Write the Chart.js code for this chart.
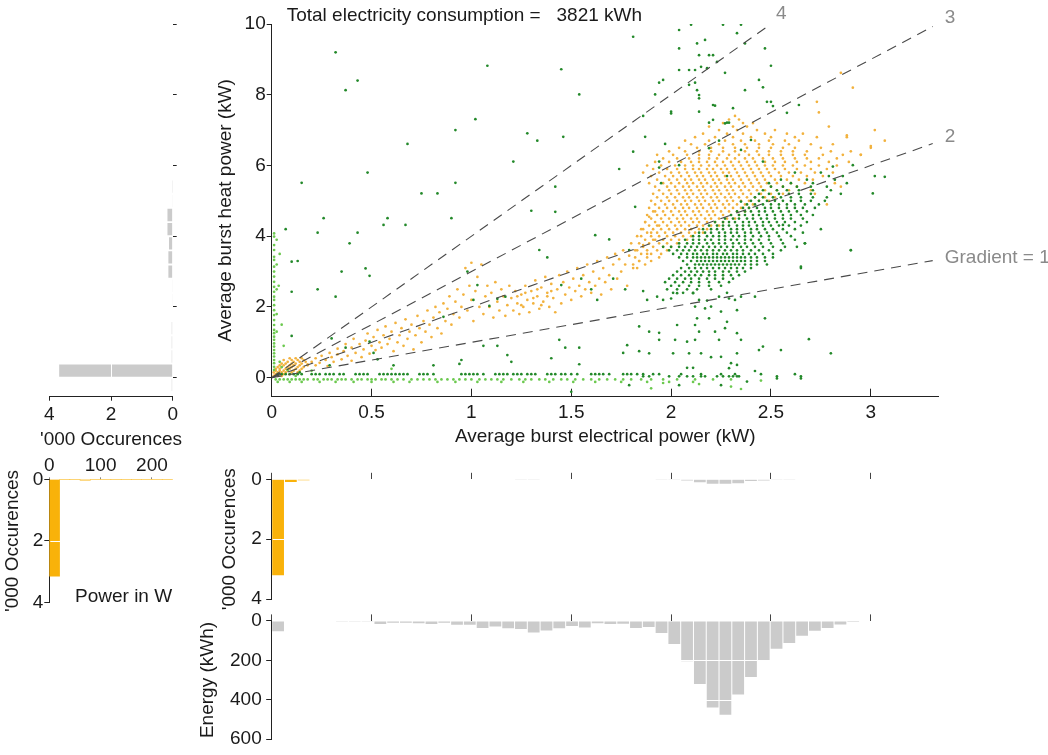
<!DOCTYPE html>
<html><head><meta charset="utf-8">
<script src="https://cdn.jsdelivr.net/npm/chart.js@4.4.1/dist/chart.umd.min.js"></script>
<style>
html,body{margin:0;padding:0;background:#fff;width:1048px;height:755px;overflow:hidden;}
canvas{position:absolute;}
</style></head><body>
<canvas id="cHeat" width="200" height="460" style="left:0;top:0"></canvas>
<canvas id="cMain" width="868" height="460" style="left:180px;top:0"></canvas>
<canvas id="cLow" width="200" height="160" style="left:0;top:455px"></canvas>
<canvas id="cOcc" width="868" height="160" style="left:180px;top:455px"></canvas>
<canvas id="cEnergy" width="868" height="150" style="left:180px;top:605px"></canvas>
<script>
// ---------------- DATA ----------------
const totalConsumption = 3821; // kWh
const elecTicks = [0, 0.5, 1, 1.5, 2, 2.5, 3];
const heatTicks = [0, 2, 4, 6, 8, 10];
const occTicks = [0, 2, 4];
const energyTicks = [0, 200, 400, 600];
const heatOccTicks = [0, 2, 4];
const lowTicks = [0, 100, 200];

// gradient reference lines (heat = g * electrical)
const gradients = [1, 2, 3, 4];
const gradientEndX = [3.31, 3.31, 3.31, 2.5];
const gradientLabels = ['Gradient = 1', '2', '3', '4'];

// histogram of bursts by electrical power ('000 occurences) and energy (kWh), bins of 0.064 kW
const elecBinWidth = 0.064;
const occurrences = [3.2,0.09,0.03,0,0,0,0,0,0.015,0, 0,0,0,0,0,0,0,0,0,0.01,
  0.01,0,0,0,0,0,0,0,0,0, 0.005,0.02,0.04,0.10,0.15,0.15,0.13,0.06,0.04,0.02,
  0.02,0,0,0,0,0,0,0,0,0, 0,0];
const energy = [52,3,0,0,0,2,2,2,16,10, 10,12,16,10,20,20,36,28,37,41,
  59,49,37,26,33,12,16,14,36,31, 62,117,205,320,439,476,374,285,203,141,
  112,76,50,36,18,5,0,0,0,0, 0,0];
const lowPowerLimit = 0.25; // kW: occurrence bins shown in orange (detailed in W panel)

// histogram of bursts by heat power ('000), bins of 0.4 kW from -0.4
const heatBinStart = -0.4, heatBinWidth = 0.4;
const heatOccurrences = [0.03,3.68,0.03,0.03,0.03,0,0.02,0.02,0.14,0.14,0.12,0.17,0.17,0.02,0.005];

// low power detail ('000 occurences), bins of 20 W
const lowBinWidth = 20;
const lowOccurrences = [3.14,0,0,0.03,0,0,0,0,0,0,0,0];

// scatter: rows of points [heat kW, electrical values in hundredths of kW]
const orangeClusterRows = [
 [7.4,'232'],[7.3,'229 234'],[7.2,'226 236 241'],[7.1,'219 231 238 279'],[7.0,'224 233 243 252 302'],
 [6.9,'216 228 236 247 258 266'],[6.8,'212 222 231 240 250 262 273 288'],[6.7,'207 219 227 235 242 249 257 264 307'],
 [6.6,'210 217 224 231 237 244 251 259 270 281'],[6.5,'204 213 220 226 232 238 244 250 256 262 275 300'],
 [6.4,'199 207 214 220 226 232 237 243 249 255 261 268 280 290'],
 [6.3,'193 201 208 214 219 224 229 234 239 244 249 255 261 267 276 286 295'],
 [6.2,'196 203 209 214 219 223 228 232 237 241 246 251 256 262 268 274 283'],
 [6.1,'192 199 205 210 214 218 222 226 230 234 238 242 247 252 257 263 270 279 289'],
 [6.0,'188 195 202 207 211 215 219 223 227 231 235 239 243 247 251 256 261 267 274 283'],
 [5.9,'191 198 203 207 211 214 218 221 225 228 232 236 240 244 248 252 257 263 270 278'],
 [5.8,'186 194 200 204 208 212 215 219 222 226 229 233 237 241 245 249 254 259 265 272 281'],
 [5.7,'190 197 201 205 209 213 216 220 223 227 230 234 238 242 246 250 255 261 268 276'],
 [5.6,'193 199 203 207 210 214 217 221 224 228 231 235 239 243 247 252 258 264 271'],
 [5.5,'189 196 200 204 208 211 215 218 222 225 229 232 236 240 244 248 253 260 267 282'],
 [5.4,'192 198 202 206 209 213 216 220 223 227 230 234 237 241 245 250 256 263'],
 [5.3,'194 199 203 207 210 214 217 221 224 228 231 235 239 243 247 253 259 270'],
 [5.2,'191 196 200 204 208 211 215 218 222 225 229 232 236 240 245 250 256'],
 [5.1,'193 198 202 206 209 213 216 220 223 227 230 234 238 242 247 252'],
 [5.0,'190 195 199 203 207 210 214 217 221 224 228 231 235 239 244 249'],
 [4.9,'192 197 201 205 208 212 215 219 222 226 229 233 237 241'],
 [4.8,'189 194 198 202 206 209 213 216 220 223 227 231 235 239'],
 [4.7,'191 196 200 204 207 211 214 218 221 225 229 233 237'],
 [4.6,'188 193 197 201 205 208 212 215 219 222 226 230 234'],
 [4.5,'190 195 199 203 206 210 213 217 220 224 228 232'],
 [4.4,'187 192 196 200 204 207 211 214 218 222 226'],
 [4.3,'189 194 198 202 205 209 213 216 220 224'],
 [4.2,'186 191 195 199 203 207 210 214 218'],
 [4.1,'188 193 197 201 205 209 212 216'],
 [4.0,'185 190 194 198 202 206 210'],
 [3.9,'187 192 196 200 204 208'],[3.8,'184 189 194 198 203'],[3.7,'186 191 196 200'],
 [3.6,'183 188 193 198'],[3.5,'185 190 195'],[3.4,'182 188 194'],[3.3,'184 190'],[3.2,'181 187'],[3.1,'183']
];
const orangeOriginRows = [
 [0.55,'9 12 15'],[0.50,'6 10 13 16'],[0.45,'8 11 14 17'],[0.40,'5 7 10 12 15'],
 [0.35,'4 6 9 11 14 18'],[0.30,'3 5 8 10 13 16'],[0.25,'2 4 7 9 12 15'],[0.20,'2 4 6 8 11 14'],
 [0.15,'1 3 5 7 10 13'],[0.10,'2 4 6 9'],[0.05,'1 3 5']
];
// scattered orange points [x kW, y kW, ...]
const orangeBand = [
 0.18,0.38, 0.20,0.45, 0.22,0.35, 0.22,0.55, 0.24,0.42, 0.25,0.62, 0.27,0.50, 0.28,0.33, 0.29,0.70, 0.30,0.58,
 0.31,0.45, 0.33,0.66, 0.33,0.82, 0.35,0.52, 0.36,0.75, 0.37,0.95, 0.38,0.62, 0.40,0.48, 0.40,0.85, 0.41,1.10,
 0.42,0.70, 0.44,0.95, 0.45,0.58, 0.46,0.80, 0.47,1.05, 0.48,1.25, 0.49,0.68, 0.50,0.90, 0.51,1.15, 0.52,0.78,
 0.53,1.35, 0.54,1.00, 0.55,0.85, 0.56,1.20, 0.57,1.45, 0.58,0.95, 0.59,1.10, 0.60,1.30, 0.61,0.75, 0.62,1.55,
 0.63,1.00, 0.64,1.20, 0.65,1.40, 0.66,0.90, 0.67,1.65, 0.68,1.10, 0.69,1.30, 0.70,1.50, 0.71,0.80, 0.72,1.20,
 0.73,1.75, 0.74,1.40, 0.75,1.00, 0.76,1.60, 0.77,1.30, 0.78,1.90, 0.79,1.50, 0.80,1.15, 0.81,1.70, 0.82,2.00,
 0.83,1.40, 0.84,1.85, 0.85,1.25, 0.86,2.10, 0.87,1.60, 0.88,1.95, 0.89,2.30, 0.90,1.50, 0.91,1.80, 0.92,2.15,
 0.93,2.50, 0.94,1.70, 0.95,2.00, 0.96,2.35, 0.97,3.10, 0.98,1.90, 0.99,2.60, 1.00,2.20, 1.00,3.25, 1.01,1.60,
 1.02,2.45, 1.03,2.85, 1.04,2.00, 1.05,3.20, 1.06,1.80, 1.07,2.30, 1.08,2.60, 1.09,2.00, 1.10,2.40, 1.11,1.70,
 1.12,2.70, 1.13,2.15, 1.14,1.90, 1.15,2.50, 1.16,2.30, 1.17,1.75, 1.18,2.05, 1.19,2.60, 1.20,2.25, 1.21,1.90,
 1.22,2.45, 1.23,2.10, 1.24,1.80, 1.25,2.35, 1.26,2.00, 1.27,2.60, 1.28,2.20, 1.29,1.85, 1.30,2.45, 1.31,2.10,
 1.32,2.75, 1.33,2.30, 1.34,1.95, 1.35,2.55, 1.36,2.15, 1.37,2.85, 1.38,2.40, 1.39,2.00, 1.40,2.65, 1.41,2.25,
 1.42,1.85, 1.43,2.50, 1.44,2.90, 1.45,2.10, 1.46,2.70, 1.47,2.35, 1.48,3.00, 1.49,2.55, 1.50,2.20, 1.51,2.80,
 1.52,2.45, 1.53,3.10, 1.54,2.60, 1.55,2.30, 1.56,2.90, 1.57,2.50, 1.58,3.20, 1.59,2.70, 1.60,2.40, 1.61,3.00,
 1.62,2.60, 1.63,3.30, 1.64,2.80, 1.65,2.35, 1.66,3.10, 1.67,2.70, 1.68,3.40, 1.69,2.90, 1.70,2.50, 1.71,3.20,
 1.72,3.50, 1.73,2.80, 1.74,3.35, 1.75,3.00, 1.76,3.60, 1.77,3.20, 1.78,2.60, 1.79,3.45, 1.80,3.80, 1.81,3.10,
 1.82,3.60, 1.83,4.00, 1.84,3.30, 1.85,4.20, 1.86,3.75, 1.87,4.40, 1.88,3.50, 1.89,4.55, 1.90,4.10, 1.91,3.90,
 1.92,4.70, 1.93,4.30, 1.25,2.05, 1.27,2.40, 1.31,2.25, 1.35,2.05, 1.38,2.30, 1.33,2.50, 1.23,2.30, 1.40,2.45,
 2.95,6.30, 3.00,6.55, 2.88,6.85, 2.85,8.62, 2.91,8.20, 2.73,7.80, 2.74,7.50, 2.72,5.20, 2.78,4.90, 2.85,5.40
];
const greenClusterRows = [
 [5.8,'262 275'],[5.7,'279 286'],[5.6,'255 268 282'],[5.5,'249 260 271 288'],[5.4,'250 256 263 270 278'],
 [5.3,'246 253 258 264 271 280'],[5.2,'244 249 254 259 264 270 285'],[5.1,'242 246 251 255 260 265 271 278'],
 [5.0,'240 244 248 252 256 260 265 270 277'],[4.9,'238 242 246 250 254 258 262 267 274'],
 [4.8,'236 239 243 247 250 254 258 262 266 272'],[4.7,'233 237 240 244 247 251 255 259 263 268'],
 [4.6,'230 234 237 241 244 248 252 256 260 265 271'],[4.5,'227 231 234 238 241 245 248 252 256 260 266'],
 [4.4,'222 226 229 232 236 239 242 246 249 253 257 262 268'],
 [4.3,'219 223 226 229 233 236 239 243 246 250 254 259 265'],
 [4.2,'216 220 223 226 230 233 236 240 243 247 251 256 262 275'],
 [4.1,'214 217 220 224 227 230 233 237 240 244 248 253 258 266'],
 [4.0,'211 214 218 221 224 227 231 234 237 241 245 249 254 260'],
 [3.9,'207 211 214 217 220 224 227 230 233 237 240 244 249 255 262'],
 [3.8,'204 208 211 214 218 221 224 227 231 234 237 241 245 250 256 267'],
 [3.7,'196 200 204 207 210 213 216 219 222 225 228 231 235 238 242 246 251 257 263'],
 [3.6,'199 203 206 209 212 215 218 221 224 227 230 233 236 240 244 249 255 290'],
 [3.5,'201 205 208 211 213 216 218 221 223 226 228 231 233 236 239 242 246 251'],
 [3.4,'204 208 211 213 215 217 219 221 223 225 227 229 231 233 235 237 240 243 247 251'],
 [3.3,'206 210 213 215 217 219 221 223 225 227 229 231 233 235 237 240 243 247'],
 [3.2,'208 212 214 216 218 220 222 224 226 228 230 232 234 237 240 243 248'],
 [3.1,'205 209 212 215 218 221 224 227 230 233 236 240 265'],
 [3.0,'203 207 210 213 216 219 222 226 229 233 237'],
 [2.9,'201 205 209 212 215 219 222 226 230 234'],
 [2.8,'199 203 207 210 214 218 222 226 231'],
 [2.7,'197 202 206 210 214 219 224 229'],
 [2.6,'200 204 209 214 219 225'],[2.5,'198 203 208 213 220'],[2.4,'201 206 211 228'],
 [0.10,'3 5 7 9 11 13 15 20 22 24 27 29 31 34 36 42 44 46 48 54 56 58 60 62 64 66 68 74 76 78 81 95 97 99 101 103 106 112 114 116 118 121 123 125 128 130 132 138 140 142 145 147 150 153 160 162 164 166 169 176 178 180 183 186 191 194 205 215 225 232 245 262'],
 [0.04,'186 189 199 204 208 211 215 217 223 226 229 231 233 234 253 265']
];
const greenSparse = [
 2.04,9.83, 2.10,9.98, 2.26,9.98, 2.35,9.98, 2.33,9.74, 2.17,9.55, 2.37,9.45, 2.47,9.31, 2.04,9.31, 2.13,9.45,
 2.14,9.12, 2.19,9.12, 2.21,9.12, 2.23,8.93, 2.04,8.70, 2.09,8.70, 2.12,8.70, 2.15,8.79, 2.18,8.75, 2.27,8.62,
 2.50,8.82, 2.44,8.42, 2.46,8.21, 2.37,8.13, 1.96,8.42, 1.94,8.34, 2.12,8.34, 2.09,8.28, 2.13,8.13, 2.14,7.99,
 2.14,7.90, 1.92,8.01, 2.00,7.52, 2.14,7.52, 2.22,7.69, 2.31,7.62, 2.48,7.80, 2.50,7.80, 2.51,7.68, 2.58,7.49,
 2.64,7.71, 2.19,7.21, 2.28,7.21, 2.29,7.21, 2.21,7.29, 1.87,6.81, 1.97,6.61, 1.81,6.39, 1.94,6.11, 1.95,5.50,
 2.04,6.01, 2.00,7.47, 2.21,7.71, 2.27,7.19, 2.19,6.49, 2.24,6.70, 2.40,6.72, 2.35,6.44, 2.46,6.11, 2.91,6.01,
 3.02,5.70, 3.01,5.21, 3.07,5.68, 2.81,5.97, 2.28,5.70, 2.35,4.98,
 1.81,9.64, 0.32,9.20, 0.37,8.13, 0.43,8.40, 1.45,8.72, 1.54,8.01, 1.08,8.82, 1.02,7.31, 0.92,7.00, 0.68,6.61,
 1.28,6.91, 1.33,6.70, 1.46,6.81, 1.21,6.11, 1.74,5.90, 1.86,7.40, 1.94,5.94, 0.15,5.51, 0.48,5.80, 0.92,5.51,
 0.75,5.21, 0.83,5.21, 1.42,5.40,
 0.07,4.20, 0.26,4.51, 0.23,4.10, 0.39,3.80, 0.43,4.10, 0.58,4.51, 0.67,4.32, 0.90,4.51, 0.56,4.32, 0.10,3.28,
 0.13,3.30, 0.10,2.43, 0.23,2.50, 0.35,3.00, 0.47,3.09, 0.49,2.88, 0.32,2.29, 0.10,1.18, 1.42,4.69, 1.30,4.72,
 1.82,4.83, 1.69,3.91, 1.62,4.03, 1.79,3.61, 0.98,3.00, 1.03,2.62, 1.01,2.20, 1.09,2.03, 0.86,1.72, 1.13,2.23,
 1.17,2.29, 1.34,3.61, 1.38,3.40, 1.45,2.62, 1.55,2.80, 1.60,2.50, 1.63,2.20, 1.71,2.80, 1.77,2.50, 1.86,2.45,
 1.89,1.30, 1.84,1.45, 1.78,0.92, 1.76,0.70, 1.84,0.75, 1.79,-0.21, 1.50,-0.40, 1.54,0.38, 1.44,1.07,
 1.47,0.85, 1.54,0.85, 1.40,0.55, 1.18,0.64, 1.20,0.45, 1.06,0.90, 1.13,0.90, 0.94,0.39, 0.95,0.50, 0.81,0.35,
 0.53,0.52, 0.61,0.35, 0.49,1.02, 0.51,0.70, 0.30,1.11, 0.37,0.85, 0.29,0.35, 0.14,0.15,
 1.88,2.20, 1.93,2.29, 1.96,2.20, 2.00,2.24, 2.03,2.39, 2.11,2.39, 2.14,2.20, 2.18,2.18, 2.24,2.29, 2.29,2.24,
 2.32,2.20, 2.35,2.29, 2.42,2.29, 2.12,2.01, 2.17,1.96, 2.20,2.01, 2.25,1.87, 2.33,1.91, 2.13,1.68, 2.19,1.68,
 2.28,1.58, 2.47,1.68, 1.94,1.27, 2.03,1.49, 2.12,1.49, 2.14,1.30, 2.22,1.30, 2.27,1.40, 2.33,1.26,
 1.94,1.07, 2.02,1.07, 2.08,1.02, 2.12,1.07, 2.24,1.07, 2.35,1.07, 2.69,1.09, 2.01,0.69, 2.09,0.69, 2.15,0.69,
 2.20,0.58, 2.25,0.59, 2.33,0.69, 2.44,0.78, 2.46,0.88, 2.55,0.78, 2.80,0.69, 1.89,0.69, 2.30,0.41, 2.33,0.36,
 2.08,0.28, 2.11,0.28, 2.29,0.27, 2.42,0.19, 2.38,-0.11, 2.04,-0.21, 2.25,-0.21,
 2.90,3.61, 2.67,3.80, 2.65,3.14, 2.56,4.32, 2.65,-0.02, 2.53,-0.02
];
const greenLightRows = [
 [-0.05,'2 4 6 8 10 12 14 16 18 21 23 26 28 30 33 35 37 40 43 45 48 50 52 55 57 60 63 66 70 73 76 79 82 85 88 91 94 97 100 104 107 110 113 116 120 124 127 130 134 137 141 145 148 152 156 160 164 168 172 176 180 185 190 196 203 212 221 230'],
 [-0.12,'3 9 15 24 32 41 50 61 69 83 92 103 115 126 139 151 162 175 188 199 211']
];
// light green column of bursts with ~0 electrical power (heat kW values)
const zeroElecHeat = [4.08,3.99,3.75,3.61,3.42,3.33,3.14,3.00,2.86,2.71,2.57,2.43,2.29,2.20,2.05,1.91,
  1.77,1.63,1.49,1.35,1.26,1.16,1.07,0.97,0.88,0.78,0.69,0.60,0.50,0.41,0.31,0.22];
const greenLightSparse = [0.20,0.20, 0.60,0.25, 1.90,-0.30, 2.35,-0.32, 2.30,-0.25, 0.05,0.30, 0.08,0.22,
  0.12,0.05, 1.96,-0.15, 2.14,-0.18, 2.45,-0.08, 0.04,0.45, 0.06,0.90, 0.05,1.50, 0.035,2.60, 0.04,3.50,
  0.025,3.90, 0.025,3.20, 0.025,2.50, 0.025,1.80, 0.025,1.30];

// ---------------- HELPERS ----------------
function fromRows(rows){ const o=[]; rows.forEach(([y,xs])=>xs.trim().split(/\s+/).forEach(v=>o.push({x:+v/100,y:y}))); return o; }
function fromPairs(a){ const o=[]; for(let i=0;i<a.length;i+=2) o.push({x:a[i],y:a[i+1]}); return o; }
const tickSetter = arr => s => { s.ticks = arr.map(v => ({value: v})); };

const FONT = "'Liberation Sans', Arial, Helvetica, sans-serif";
const TXT = '#1a1a1a';
const ORANGE_BAR = '#f9b20a', GREY_BAR = '#cbcbcb';
const ORANGE_PT = '#f2b23e', GREEN_DARK = '#23892a', GREEN_LIGHT = '#6cc94f';
Chart.defaults.font.family = FONT;
Chart.defaults.font.size = 19;
Chart.defaults.color = TXT;
Chart.defaults.animation = false;
Chart.defaults.responsive = false;
Chart.defaults.maintainAspectRatio = false;
Chart.defaults.events = [];
Chart.defaults.plugins.legend.display = false;
Chart.defaults.plugins.tooltip.enabled = false;

// white grid lines drawn over the bars
const overGrid = {
  id: 'overGrid',
  afterDatasetsDraw(chart, args, opts) {
    const s = chart.scales[opts.axis], a = chart.chartArea, ctx = chart.ctx;
    ctx.save(); ctx.strokeStyle = '#ffffff'; ctx.lineWidth = 1;
    s.ticks.forEach(t => {
      if (t.value === s.min || t.value === s.max || t.value === 0) return;
      const p = Math.round(s.getPixelForValue(t.value)) + 0.5;
      ctx.beginPath();
      if (s.isHorizontal()) { ctx.moveTo(p, a.top); ctx.lineTo(p, a.bottom - 1); }
      else { ctx.moveTo(a.left + 1, p); ctx.lineTo(a.right, p); }
      ctx.stroke();
    });
    ctx.restore();
  }
};
// axis titles drawn without width compression
const freeTitle = {
  id: 'freeTitle',
  afterDraw(chart, args, opts) {
    if (!opts || !opts.text) return;
    const a = chart.chartArea, ctx = chart.ctx;
    ctx.save(); ctx.font = '19px ' + FONT; ctx.fillStyle = TXT;
    ctx.textAlign = 'center'; ctx.textBaseline = 'middle';
    if (opts.vertical) {
      ctx.translate(opts.pos, (a.top + a.bottom) / 2); ctx.rotate(-Math.PI / 2);
      ctx.fillText(opts.text, 0, 0);
    } else {
      ctx.fillText(opts.text, (a.left + a.right) / 2, opts.pos);
    }
    ctx.restore();
  }
};

// ---------------- MAIN SCATTER ----------------
const labelOffsets = [[12, -3], [12, -6.5], [12, -9], [5, -10]];
const mainText = {
  id: 'mainText',
  afterDatasetsDraw(chart) {
    const {ctx, scales: {x, y}} = chart;
    ctx.save();
    ctx.font = '19px ' + FONT; ctx.textBaseline = 'middle'; ctx.textAlign = 'left';
    ctx.fillStyle = TXT;
    ctx.fillText('Total electricity consumption =\u00a0\u00a0\u00a0' + totalConsumption + ' kWh', chart.chartArea.left + 15, 16);
    ctx.fillStyle = '#8a8a8a';
    gradients.forEach((g, i) => {
      const px = x.getPixelForValue(gradientEndX[i]), py = y.getPixelForValue(g * gradientEndX[i]);
      ctx.fillText(gradientLabels[i], px + labelOffsets[i][0], py + labelOffsets[i][1]);
    });
    ctx.restore();
  }
};
const ptStyle = {pointRadius: 1.35, pointBorderWidth: 0, borderWidth: 0, showLine: false};
new Chart(document.getElementById('cMain'), {
  type: 'scatter',
  data: { datasets: [
    ...gradients.map((g, i) => ({
      data: [{x: 0, y: 0}, {x: gradientEndX[i], y: g * gradientEndX[i]}],
      showLine: true, borderColor: '#4a4a4a', borderWidth: 1.1, borderDash: [10, 7],
      pointRadius: 0, fill: false })),
    Object.assign({ data: fromRows(greenClusterRows).concat(fromPairs(greenSparse)), backgroundColor: GREEN_DARK }, ptStyle),
    Object.assign({ data: fromRows(greenLightRows).concat(zeroElecHeat.map(h => ({x: 0.012, y: h})), fromPairs(greenLightSparse)), backgroundColor: GREEN_LIGHT }, ptStyle),
    Object.assign({ data: fromRows(orangeClusterRows).concat(fromRows(orangeOriginRows), fromPairs(orangeBand)), backgroundColor: ORANGE_PT }, ptStyle)
  ]},
  options: {
    layout: {padding: {left: 0, top: 24, right: 109.3, bottom: 0}},
    scales: {
      x: { type: 'linear', position: 'bottom', min: 0, max: 3.34,
        afterBuildTicks: tickSetter(elecTicks),
        ticks: {padding: 13, maxRotation: 0, autoSkip: false, callback: v => String(v)},
        grid: {drawOnChartArea: false, tickLength: -8, color: '#222'},
        border: {color: '#222'},
        title: {display: true, text: 'Average burst electrical power (kW)', padding: {top: 0, bottom: 11.6}},
        afterFit: s => { s.height = 63.3; } },
      y: { type: 'linear', position: 'left', min: -0.537, max: 10,
        afterBuildTicks: tickSetter(heatTicks),
        ticks: {padding: 1, callback: v => String(v)},
        grid: {drawOnChartArea: false, tickLength: 5, color: '#222'},
        border: {color: '#222'},
        title: {display: true, text: 'Average burst heat power (kW)', padding: {top: 34.6, bottom: 0}},
        afterFit: s => { s.width = 91.7; } }
    }
  },
  plugins: [mainText]
});

// ---------------- HEAT HISTOGRAM (left) ----------------
new Chart(document.getElementById('cHeat'), {
  type: 'bar',
  data: { datasets: [{
    data: heatOccurrences.map((v, i) => ({y: heatBinStart + (i + 0.5) * heatBinWidth, x: v})),
    backgroundColor: GREY_BAR, barPercentage: 0.87, categoryPercentage: 1 }]},
  options: {
    indexAxis: 'y',
    layout: {padding: {left: 49.3, top: 24, right: 20, bottom: 0}},
    scales: {
      x: { type: 'linear', position: 'bottom', min: 0, max: 4, reverse: true, offset: false,
        afterBuildTicks: tickSetter(heatOccTicks),
        ticks: {padding: 3, maxRotation: 0, callback: v => String(v)},
        grid: {drawOnChartArea: false, offset: false, tickLength: 4, color: '#222'},
        border: {color: '#222'},
        afterFit: s => { s.height = 63.3; } },
      y: { type: 'linear', position: 'right', min: -0.537, max: 10, offset: false,
        afterBuildTicks: tickSetter(heatTicks),
        ticks: {display: false},
        grid: {drawOnChartArea: false, offset: false, tickLength: 4, color: '#222'},
        border: {display: false},
        afterFit: s => { s.width = 7.3; } }
    },
    plugins: {overGrid: {axis: 'x'}, freeTitle: {text: "'000 Occurences", vertical: false, pos: 440}}
  },
  plugins: [overGrid, freeTitle]
});

// ---------------- LOW POWER DETAIL (W) ----------------
const lowText = {
  id: 'lowText',
  afterDraw(chart) {
    const ctx = chart.ctx; ctx.save();
    ctx.font = '19px ' + FONT; ctx.fillStyle = TXT; ctx.textBaseline = 'middle'; ctx.textAlign = 'left';
    ctx.fillText('Power in W', 75, 142);
    ctx.restore();
  }
};
new Chart(document.getElementById('cLow'), {
  type: 'bar',
  data: { datasets: [{
    data: lowOccurrences.map((v, i) => ({x: (i + 0.5) * lowBinWidth, y: v})),
    backgroundColor: ORANGE_BAR, barPercentage: 1, categoryPercentage: 1 }]},
  options: {
    layout: {padding: {left: 0, top: 0, right: 22.4, bottom: 11.7}},
    scales: {
      x: { type: 'linear', position: 'top', min: 0, max: 250, offset: false,
        afterBuildTicks: tickSetter(lowTicks),
        ticks: {padding: 0, maxRotation: 0, callback: v => String(v)},
        grid: {drawOnChartArea: false, offset: false, tickLength: 2, color: '#888'},
        border: {display: false},
        afterFit: s => { s.height = 24.3; } },
      y: { type: 'linear', position: 'left', min: 0, max: 4, reverse: true,
        afterBuildTicks: tickSetter(occTicks),
        ticks: {padding: 1, callback: v => String(v)},
        grid: {drawOnChartArea: false, tickLength: 5, color: '#222'},
        border: {color: '#222'},
        afterFit: s => { s.width = 49.3; } }
    },
    plugins: {overGrid: {axis: 'y'}, freeTitle: {text: "'000 Occurences", vertical: true, pos: 12.5}}
  },
  plugins: [overGrid, lowText, freeTitle]
});

// ---------------- HISTOGRAMS BY ELECTRICAL POWER ----------------
function elecHist(id, values, color, ticks, maxV, title, titleX, topH, bottomPad) {
  new Chart(document.getElementById(id), {
    type: 'bar',
    data: { datasets: [{
      data: values.map((v, i) => ({x: (i + 0.5) * elecBinWidth, y: v})),
      backgroundColor: color, barPercentage: 0.92, categoryPercentage: 1 }]},
    options: {
      layout: {padding: {left: 0, top: 0, right: 109.3, bottom: bottomPad}},
      scales: {
        x: { type: 'linear', position: 'top', min: 0, max: 3.34, offset: false,
          afterBuildTicks: tickSetter(elecTicks),
          ticks: {display: false},
          grid: {drawOnChartArea: false, offset: false, tickLength: 6.5, color: '#444'},
          border: {display: false},
          afterFit: s => { s.height = topH; } },
        y: { type: 'linear', position: 'left', min: 0, max: maxV, reverse: true,
          afterBuildTicks: tickSetter(ticks),
          ticks: {padding: 4.5, callback: v => String(v)},
          grid: {drawOnChartArea: false, tickLength: 5.5, color: '#222'},
          border: {color: '#222'},
          afterFit: s => { s.width = 91.7; } }
      },
      plugins: {overGrid: {axis: 'y'}, freeTitle: {text: title, vertical: true, pos: titleX}}
    },
    plugins: [overGrid, freeTitle]
  });
}
const occColor = c => (c.raw && c.raw.x < lowPowerLimit) ? ORANGE_BAR : GREY_BAR;
elecHist('cOcc', occurrences, occColor, occTicks, 4, "'000 Occurences", 50, 24.3, 11.7);
elecHist('cEnergy', energy, GREY_BAR, energyTicks, 600, 'Energy (kWh)', 28, 15, 12.3);
</script>
</body></html>
